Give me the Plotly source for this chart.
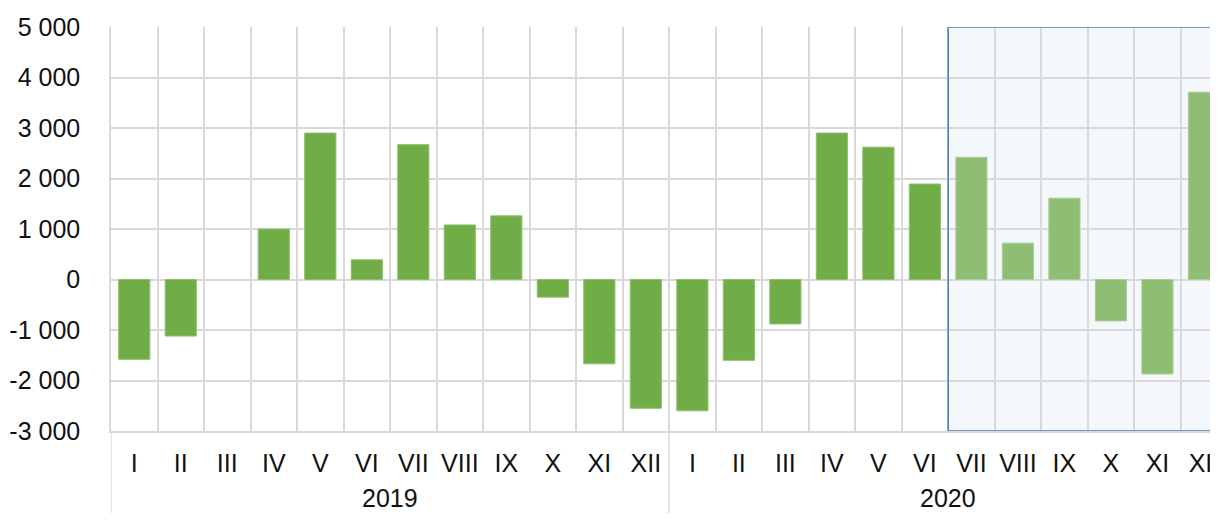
import plotly.graph_objects as go

# monthly values
months = ["I", "II", "III", "IV", "V", "VI", "VII", "VIII", "IX", "X", "XI", "XII"]
years = ["2019", "2020"]
values_2019 = [-1580, -1120, 0, 1000, 2900, 390, 2670, 1080, 1260, -350, -1670, -2550]
values_2020 = [-2600, -1600, -880, 2900, 2620, 1890, 2420, 720, 1610, -820, -1870, 3710]
y_ticks = [-3000, -2000, -1000, 0, 1000, 2000, 3000, 4000, 5000]
highlight_from = 18  # index of VII 2020 (estimate period)

keys = [f"{y}-{m}" for y in years for m in months]
labels = months * len(years)
values = values_2019 + values_2020
colors = ["#70AD47" if i < highlight_from else "#8FBD74" for i in range(len(values))]
lines = ["#8CC06A" if i < highlight_from else "#A9CF93" for i in range(len(values))]
line_w = [0 if v == 0 else 1 for v in values]

def fmt(v):
    s = f"{abs(v):,}".replace(",", " ")
    return ("-" if v < 0 else "") + s

fig = go.Figure()
fig.add_trace(go.Bar(
    x=keys, y=values, width=0.67,
    marker=dict(color=colors, line=dict(color=lines, width=line_w)),
    showlegend=False,
))

# highlighted (estimate) period: fill under the grid, border on top
x0, x1 = highlight_from - 0.5, len(keys) - 0.5
fig.add_shape(type="rect", xref="x", yref="y", x0=x0, x1=x1, y0=y_ticks[0], y1=y_ticks[-1],
              fillcolor="#F4F8FC", line=dict(width=0), layer="below")
fig.add_shape(type="rect", xref="x", yref="y", x0=x0, x1=x1, y0=y_ticks[0], y1=y_ticks[-1],
              fillcolor="rgba(0,0,0,0)", line=dict(color="#4A7EBB", width=1.5), layer="above")

# year group dividers and labels
for i, yr in enumerate(years):
    start = i * len(months)
    fig.add_shape(type="line", xref="x", yref="paper",
                  x0=start - 0.5, x1=start - 0.5, y0=0, y1=-0.25,
                  line=dict(color="#D9D9D9", width=1.5))
    fig.add_annotation(x=start + (len(months) - 1) / 2, xref="x", y=-0.165, yref="paper",
                       text=yr, showarrow=False, yanchor="middle",
                       font=dict(size=25, color="#111111"))

# page body has an 8px default margin, so the figure is a bit smaller than the window
fig.update_layout(
    width=1202, height=505,
    margin=dict(l=103, r=0, t=19, b=82),
    plot_bgcolor="rgba(0,0,0,0)", paper_bgcolor="white",
    font=dict(family="Liberation Sans, Arial, sans-serif", size=25, color="#111111"),
    bargap=0.33,
)
fig.update_xaxes(
    type="category", tickvals=keys, ticktext=labels, tickson="boundaries",
    range=[-0.5, 23.13], showgrid=True, gridcolor="#D9D9D9", gridwidth=1.5,
    ticks="", ticklabelstandoff=9, showline=True, linecolor="#D9D9D9", linewidth=1.5,
    tickangle=0, tickfont=dict(size=25), automargin=False,
)
fig.update_yaxes(
    range=[y_ticks[0], y_ticks[-1]], tickvals=y_ticks, ticktext=[fmt(v) for v in y_ticks],
    showgrid=True, gridcolor="#D9D9D9", gridwidth=1.5, zeroline=True, zerolinecolor="#D9D9D9",
    zerolinewidth=1.5, showline=True, linecolor="#D9D9D9", linewidth=1.5, mirror=True,
    ticks="", ticklabelstandoff=24, tickfont=dict(size=25), automargin=False,
)

fig.write_html("out.html")
